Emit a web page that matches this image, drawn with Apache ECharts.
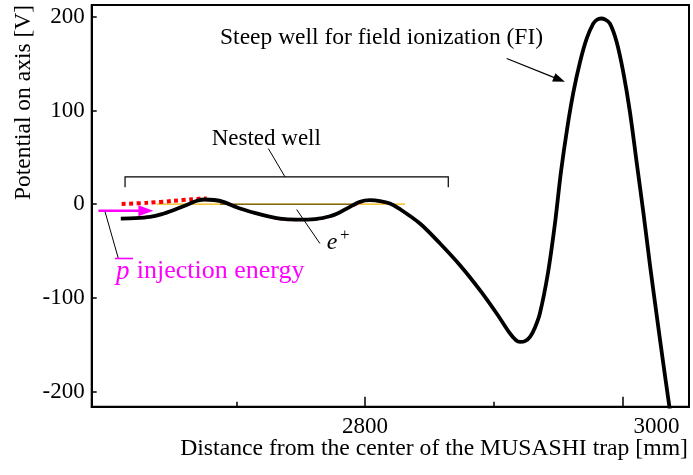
<!DOCTYPE html>
<html><head><meta charset="utf-8">
<script src="https://cdn.jsdelivr.net/npm/echarts@6/dist/echarts.min.js"></script>
<style>html,body{margin:0;padding:0;background:#fff}#c{width:693px;height:475px}</style>
</head><body><div id="c"></div>
<script>
// ---- data ----
const potX = [2610.3,2621.4,2633.0,2642.3,2651.1,2657.9,2664.1,2669.5,2675.7,2682.7,2689.9,2702.9,2721.0,2734.0,2747.2,2761.2,2772.8,2780.6,2788.3,2796.1,2803.9,2811.7,2819.4,2827.2,2842.7,2858.3,2873.8,2889.3,2902.3,2912.6,2917.3,2920.4,2924.3,2928.2,2932.0,2935.9,2942.1,2947.6,2952.2,2957.1,2961.9,2967.0,2972.2,2977.3,2980.2,2983.3,2986.4,2990.3,2995.5,3000.6,3005.8,3011.0,3016.2,3021.4,3026.6,3031.7,3037.4];
const potV = [-15.3,-14.9,-13.5,-10.5,-6.4,-2.7,0.7,3.7,5.0,4.5,2.5,-4.6,-11.7,-15.5,-16.5,-15.8,-12.8,-8.5,-2.9,2.7,4.3,3.4,0.7,-5.3,-20.6,-41.9,-65.1,-91.7,-116.6,-137.9,-145.1,-146.9,-146.1,-141.5,-131.7,-116.3,-73.6,-20.3,34.1,81.1,119.5,151.5,176.7,192.7,196.8,198.1,197.1,192.7,173.1,141.1,98.5,45.1,-8.2,-65.1,-118.4,-169.6,-225.1];
const redDotX = [2611,2631,2651,2666,2677];
const redDotV = [0.3,1.5,3.5,5.3,6.2];
const redDashX = [2675.7,2689.9,2702.9,2721.0,2734.0,2747.2,2761.2,2772.8,2788.3,2803.9,2819.4,2827.2,2842.7];
const redDashV = [4.2,1.7,-5.4,-12.5,-16.3,-17.3,-16.6,-13.6,-3.7,3.5,-0.1,-6.1,-21.4];
const zeroX = [2638.2,2831.1];
const zeroV = [0,0];
const zeroDarkX = [2687.4,2790.7];
const zeroDarkV = [0,0];
const xMajorTicks = [2800,3000];
const xMinorTicks = [2700,2900];
const yTicks = [-200,-100,0,100,200];

const zip = (a,b) => a.map((v,i)=>[v,b[i]]);
const FONT = 'Liberation Serif';
const XMIN = 2587.7, XMAX = 3051.7, YMIN = -216, YMAX = 212.5;

const chart = echarts.init(document.getElementById('c'), null, {renderer:'canvas'});
chart.setOption({
  animation:false,
  backgroundColor:'#fff',
  grid:{left:91.7, right:4, top:5, bottom:68.3, show:true, borderColor:'#000', borderWidth:2, backgroundColor:'transparent'},
  xAxis:[{
    type:'value', min:XMIN, max:XMAX, position:'bottom',
    axisLine:{show:true, onZero:false, lineStyle:{color:'#000', width:2}},
    axisTick:{show:true, inside:true, length:10, customValues:xMajorTicks, lineStyle:{color:'#000', width:1.5}},
    axisLabel:{show:true, customValues:xMajorTicks, margin:9, color:'#000', fontFamily:FONT, fontSize:23,
      formatter:v => v===3000 ? '{r|'+v+'}' : String(v),
      rich:{r:{padding:[0,0,0,68], fontFamily:FONT, fontSize:23, color:'#000'}}},
    splitLine:{show:false}
  },{
    type:'value', min:XMIN, max:XMAX, position:'bottom',
    axisLine:{show:false, onZero:false},
    axisTick:{show:true, inside:true, length:5, customValues:xMinorTicks, lineStyle:{color:'#000', width:1.5}},
    axisLabel:{show:false}, splitLine:{show:false}
  }],
  yAxis:{
    type:'value', min:YMIN, max:YMAX,
    axisLine:{show:true, onZero:false, lineStyle:{color:'#000', width:2}},
    axisTick:{show:true, inside:true, length:5, customValues:yTicks, lineStyle:{color:'#000', width:1.5}},
    axisLabel:{show:true, customValues:yTicks, margin:7, color:'#000', fontFamily:FONT, fontSize:23},
    splitLine:{show:false}
  },
  series:[
    {type:'line', data:zip(zeroX,zeroV), symbol:'none', lineStyle:{color:'#f0b400', width:1.3}, z:1},
    {type:'line', data:zip(zeroDarkX,zeroDarkV), symbol:'none', lineStyle:{color:'#4a3f10', width:1}, z:2},
    {type:'line', data:zip(redDashX,redDashV), symbol:'none', smooth:0.3, lineStyle:{color:'#ff0000', width:1.5, type:[4,3]}, z:3},
    {type:'line', data:zip(redDotX,redDotV), symbol:'none', smooth:0.3, lineStyle:{color:'#ff0000', width:4, type:[4,3.5], cap:'butt'}, z:3},
    {type:'line', data:zip(potX,potV), symbol:'none', smooth:0.3, lineStyle:{color:'#000', width:3.8, join:'round'}, z:4}
  ]
});

// ---- annotations (anchored in data coordinates) ----
const P = (x,y) => chart.convertToPixel({gridIndex:0}, [x,y]);
function arrow(a, b, color, w, len, hw){
  const p1 = P(a[0],a[1]), p2 = P(b[0],b[1]);
  const dx = p2[0]-p1[0], dy = p2[1]-p1[1], L = Math.hypot(dx,dy), ux = dx/L, uy = dy/L;
  const bx = p2[0]-ux*len, by = p2[1]-uy*len;
  return [
    {type:'line', shape:{x1:p1[0], y1:p1[1], x2:bx+ux*2, y2:by+uy*2}, style:{stroke:color, lineWidth:w}, z:10},
    {type:'polygon', shape:{points:[[p2[0],p2[1]],[bx-uy*hw,by+ux*hw],[bx+uy*hw,by-ux*hw]]}, style:{fill:color}, z:10}
  ];
}
function seg(a, b, w, color){
  const p1 = P(a[0],a[1]), p2 = P(b[0],b[1]);
  return {type:'line', shape:{x1:p1[0], y1:p1[1], x2:p2[0], y2:p2[1]}, style:{stroke:color||'#000', lineWidth:w||1}, z:10};
}
function txt(at, text, size, color, align, style){
  const p = P(at[0],at[1]);
  return {type:'text', x:p[0], y:p[1], z:11, style:{text:text, font:(style||'')+' '+size+'px "'+FONT+'"', fill:color||'#000', align:align||'left', verticalAlign:'middle'}};
}
const bracketPts = [[2613.6,18.1],[2613.6,29.1],[2864.7,29.1],[2864.7,18.1]].map(q=>P(q[0],q[1]));
const els = [].concat(
  arrow([2592.9,-7.1],[2635.6,-7.1],'#ff00ff',2.5,15,5.5),
  arrow([2910.1,155.4],[2955.3,130.5],'#000',1.2,12,4.5),
  [
    seg([2598.1,-8.2],[2608.4,-57.9]),
    seg([2746.9,-5.7],[2765.0,-41.9]),
    seg([2724.9,59.4],[2737.9,29.1]),
    {type:'polyline', shape:{points:bracketPts}, style:{stroke:'#000', lineWidth:1.2, fill:null}, z:10},
    txt([2687.4,177.9],'Steep well for field ionization (FI)',23.5),
    txt([2680.9,69.4],'Nested well',23),
    txt([2606.5,-72.5],'p',27,'#ff00ff','left','italic'),
    seg([2605.8,-57.9],[2619.8,-57.9],1.6,'#ff00ff'),
    txt([2622.7,-71.7],'injection energy',26,'#ff00ff'),
    txt([2770.3,-41.5],'e',24,'#000','left','italic'),
    txt([2780.6,-33.4],'+',17,'#000'),
    {type:'text', x:688, y:449, z:11, style:{text:'Distance from the center of the MUSASHI trap [mm]', font:'23.7px "'+FONT+'"', fill:'#000', align:'right', verticalAlign:'middle'}},
    {type:'text', x:24, y:102.5, rotation:Math.PI/2, z:11, style:{text:'Potential on axis [V]', font:'23.5px "'+FONT+'"', fill:'#000', align:'center', verticalAlign:'middle'}}
  ]
);
chart.setOption({graphic:{elements:els}});
</script></body></html>
